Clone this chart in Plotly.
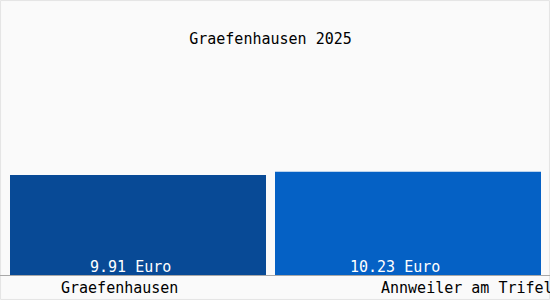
import plotly.graph_objects as go

title_text = "Graefenhausen 2025"
categories = ["Graefenhausen", "Annweiler am Trifels"]
values = [9.91, 10.23]
value_labels = ["9.91 Euro", "10.23 Euro"]
bar_colors = ["#084a96", "#0561c5"]

FONT = "DejaVu Sans Mono"
FS = 15

fig = go.Figure()
fig.add_trace(go.Bar(
    x=list(range(len(categories))), y=values,
    width=[256/270, 266/270],
    marker=dict(color=bar_colors, line=dict(width=0)),
    hoverinfo="skip", showlegend=False,
))

# value labels inside the bars
val_shift = [-8, -13]
for i, (v, lab) in enumerate(zip(values, value_labels)):
    fig.add_annotation(x=i, y=0, xref="x", yref="y", text=lab, showarrow=False,
                       xanchor="center", yanchor="bottom", yshift=-3, xshift=val_shift[i],
                       font=dict(family=FONT, size=FS, color="white"))

# category labels under the axis
cat_shift = [-79, -29]
for i, c in enumerate(categories):
    fig.add_annotation(x=i, y=0, xref="x", yref="paper", text=c, showarrow=False,
                       xanchor="left", yanchor="middle", yshift=-13, xshift=cat_shift[i],
                       font=dict(family=FONT, size=FS, color="black"))

fig.update_layout(
    width=550, height=300,
    margin=dict(l=0, r=0, t=0, b=25),
    paper_bgcolor="#fafafa", plot_bgcolor="#fafafa",
    title=dict(text=title_text, x=270.5/550, xanchor="center", y=1 - 39/300, yanchor="middle",
               font=dict(family=FONT, size=FS, color="black")),
    xaxis=dict(range=[-138/270, (550-138)/270], showticklabels=False, showgrid=False,
               zeroline=False, showline=True, linecolor="#a8a8a8", linewidth=1, fixedrange=True),
    yaxis=dict(range=[0, 275/10.09], visible=False, fixedrange=True),
)
fig.add_shape(type="rect", xref="paper", yref="paper", x0=0.001, x1=0.999, y0=-25/275 + 0.002, y1=0.998,
              line=dict(color="#e4e4e4", width=1), layer="below")

fig.write_html("out.html")
